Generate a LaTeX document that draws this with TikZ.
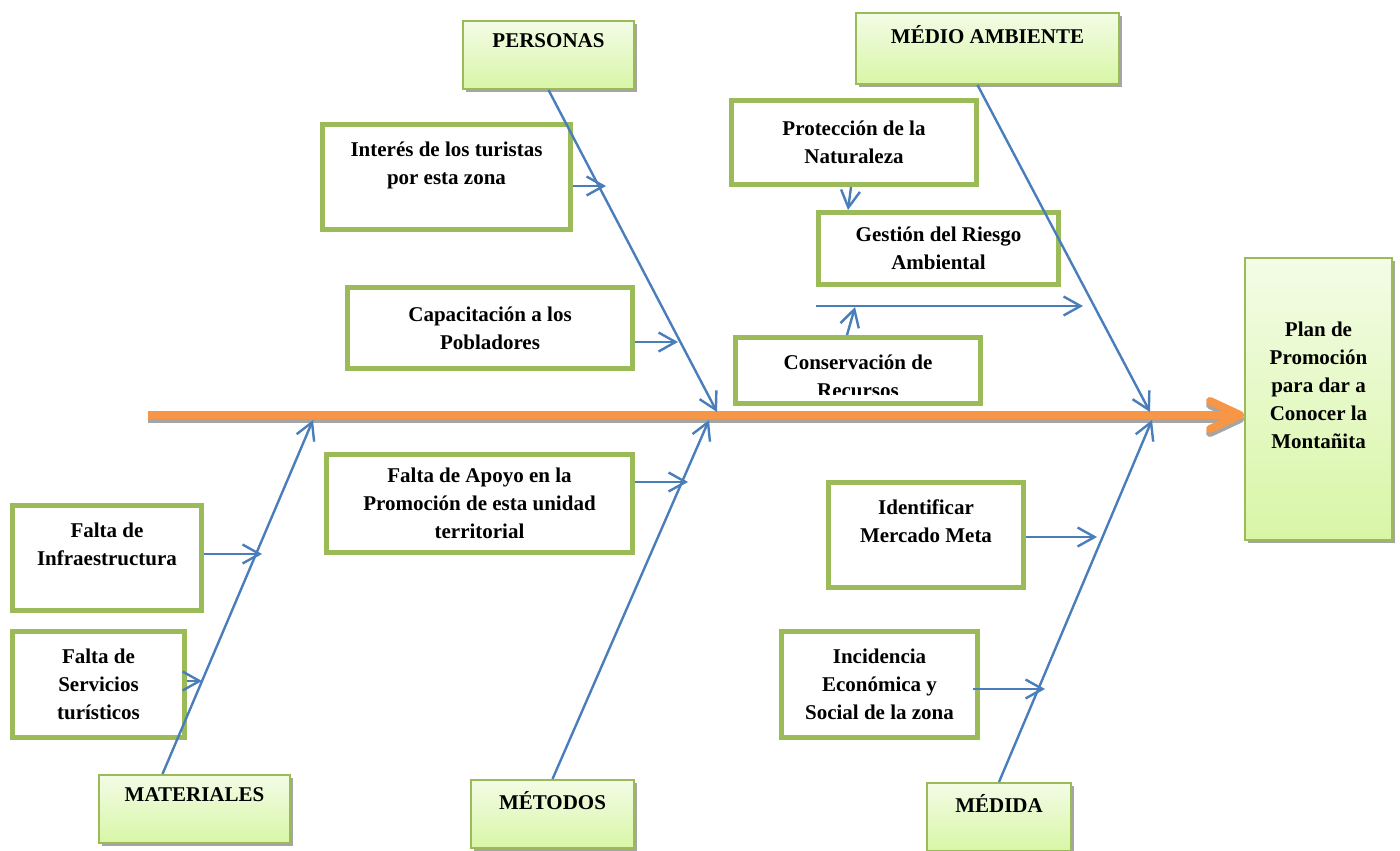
\documentclass[tikz,border=0pt]{standalone}
\usepackage{fontspec}
\setmainfont{Liberation Serif}
\usetikzlibrary{arrows.meta,shadows}
\definecolor{verdeborde}{HTML}{9BBB59}
\definecolor{verdeclaro}{HTML}{F3FCE6}
\definecolor{verdefondo}{HTML}{D8F6A6}
\definecolor{azul}{HTML}{4A7EBB}
\definecolor{naranja}{HTML}{F79646}
\definecolor{sombra}{HTML}{A5A5A5}
\begin{document}
\begin{tikzpicture}[x=0.5pt,y=-0.5pt,
    letra/.style={font=\bfseries\fontsize{10.5}{14}\selectfont},
    categoria/.style={letra, draw=verdeborde, line width=1pt, top color=verdeclaro, bottom color=verdefondo,
      drop shadow={shadow xshift=1.5pt, shadow yshift=-1.5pt, fill=sombra, opacity=1}, align=center},
    causa/.style={letra, draw=verdeborde, line width=2.5pt, fill=white, align=center},
    flecha/.style={draw=azul, line width=1.2pt, -{Straight Barb[length=8.5pt,width=9.5pt]}},
    espina/.style={line width=4pt, -{Straight Barb[length=15pt,width=14pt,round]}}]
    \useasboundingbox (0,0) rectangle (1400,850);
    \node[categoria, minimum width=85.5pt, minimum height=34pt] (personas) at (548.5,55) {PERSONAS\\ ~};
    \node[categoria, minimum width=131.5pt, minimum height=35.5pt] (medio) at (987.5,48.5) {MÉDIO AMBIENTE\\ ~};
    \node[categoria, minimum width=95.5pt, minimum height=34pt] (materiales) at (194.5,809) {MATERIALES\\ ~};
    \node[categoria, minimum width=81.5pt, minimum height=34pt] (metodos) at (552.5,814) {MÉTODOS\\ ~};
    \node[categoria, minimum width=72pt, minimum height=34pt] (medida) at (999,817) {MÉDIDA\\ ~};
    \node[categoria, minimum width=73.5pt, minimum height=141pt] (plan) at (1318.5,399)
      {Plan de\\Promoción\\para dar a\\Conocer la\\Montañita\\ ~};
    \node[causa, minimum width=124pt, minimum height=52pt] (interes) at (446.5,177) {Interés de los turistas\\por esta zona\\ ~};
    \node[causa, minimum width=142.5pt, minimum height=40.5pt] (capacit) at (490,328) {Capacitación a los\\Pobladores};
    \node[causa, minimum width=122.5pt, minimum height=42pt] (protec) at (854,142.5) {Protección de la\\Naturaleza};
    \node[causa, minimum width=120pt, minimum height=36pt] (gestion) at (938.5,248.5) {Gestión del Riesgo\\Ambiental};
    \node[causa, minimum width=122.5pt, minimum height=33pt, path picture={
        \clip ([yshift=4.75pt]path picture bounding box.south west) rectangle (path picture bounding box.north east);
        \node[letra, align=center, anchor=north] at ([yshift=-1.5pt]path picture bounding box.north) {Conservación de\\Recursos};
      }] (conserv) at (858,370.5) {};
    \node[causa, minimum width=153pt, minimum height=49pt] (apoyo) at (479.5,503.5) {Falta de Apoyo en la\\Promoción de esta unidad\\territorial};
    \node[causa, minimum width=94.5pt, minimum height=52.5pt] (infra) at (107,558) {Falta de\\Infraestructura\\ ~};
    \node[causa, minimum width=86pt, minimum height=53pt] (servicios) at (98.5,684.5) {Falta de\\Servicios\\turísticos};
    \node[causa, minimum width=97.5pt, minimum height=52.5pt] (identif) at (926,535) {Identificar\\Mercado Meta\\ ~};
    \node[causa, minimum width=98pt, minimum height=53pt] (incid) at (879.5,684.5) {Incidencia\\Económica y\\Social de la zona};
    \coordinate (cola) at (148,415);
    \coordinate (jP) at (717,412);
    \coordinate (jA) at (1150,412);
    \coordinate (jMa) at (313,420);
    \coordinate (jMe) at (709,420);
    \coordinate (jMd) at (1152,420);
    \coordinate (hA) at (816,306);
    \coordinate (hB) at (1083,306);
    \coordinate (hC) at (855,307);
    \draw[espina, draw=sombra, transform canvas={yshift=-2pt}] (cola) -- (cola -| plan.west);
    \draw[espina, draw=naranja] (cola) -- (cola -| plan.west);
    \draw[flecha] (personas.south) -- (jP);
    \draw[flecha] ([xshift=-5pt]medio.south) -- (jA);
    \draw[flecha] ([xshift=-16pt]materiales.north) -- (jMa);
    \draw[flecha] (metodos.north) -- (jMe);
    \draw[flecha] (medida.north) -- (jMd);
    \draw[flecha] ([yshift=-4.5pt]interes.east) -- ++(33,0);
    \draw[flecha] ([yshift=-7pt]capacit.east) -- ++(43,0);
    \draw[flecha] ([yshift=10.75pt]apoyo.east) -- ++(53,0);
    \draw[flecha] ([yshift=2pt]infra.east) -- ++(58,0);
    \draw[flecha] ([yshift=1.75pt]servicios.east) -- ++(15,0);
    \draw[flecha] ([yshift=-1pt]identif.east) -- ++(71,0);
    \draw[flecha] ([xshift=-3.5pt,yshift=-2.25pt]incid.east) -- ++(72,0);
    \draw[flecha] ([xshift=-1.5pt]protec.south) -- ([xshift=-45.25pt]gestion.north);
    \draw[flecha] (hA) -- (hB);
    \draw[flecha] ([xshift=-5.5pt]conserv.north) -- (hC);
\end{tikzpicture}
\end{document}
